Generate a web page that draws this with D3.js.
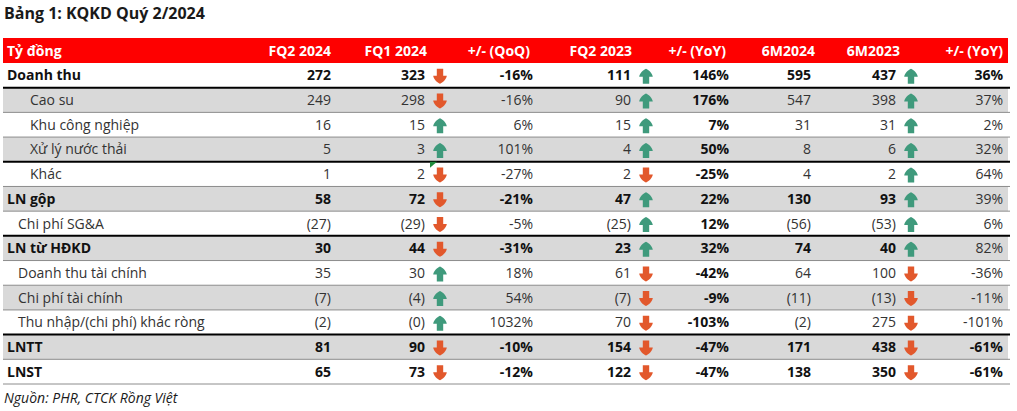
<!DOCTYPE html>
<html>

<head>
    <meta charset="UTF-8">
    <title>Bảng 1: KQKD Quý 2/2024</title>
    <style>
        body { margin: 0; background: #fff; }
        svg text { font-family: "Open Sans", "Noto Sans", sans-serif; }
    </style>
</head>

<body>
    <div id="table_chart"></div>
</body>
<script src="https://cdn.jsdelivr.net/npm/d3@7"></script>
<script>
    // dữ liệu bảng
    const rowLabels = ["Doanh thu", "Cao su", "Khu công nghiệp", "Xử lý nước thải", "Khác", "LN gộp",
        "Chi phí SG&A", "LN từ HĐKD", "Doanh thu tài chính", "Chi phí tài chính",
        "Thu nhập/(chi phí) khác ròng", "LNTT", "LNST"];
    const rowLevel = [0, 2, 2, 2, 2, 0, 1, 0, 1, 1, 1, 0, 0]; // 0 = dòng tổng
    const headers = ["Tỷ đồng", "FQ2 2024", "FQ1 2024", "+/- (QoQ)", "FQ2 2023", "+/- (YoY)", "6M2024", "6M2023", "+/- (YoY)"];
    const fq2_2024 = [272, 249, 16, 5, 1, 58, -27, 30, 35, -7, -2, 81, 65];
    const fq1_2024 = [323, 298, 15, 3, 2, 72, -29, 44, 30, -4, -0, 90, 73];
    const qoq = [-16, -16, 6, 101, -27, -21, -5, -31, 18, 54, 1032, -10, -12];
    const fq2_2023 = [111, 90, 15, 4, 2, 47, -25, 23, 61, -7, 70, 154, 122];
    const yoy = [146, 176, 7, 50, -25, 22, 12, 32, -42, -9, -103, -47, -47];
    const m6_2024 = [595, 547, 31, 8, 4, 130, -56, 74, 64, -11, -2, 171, 138];
    const m6_2023 = [437, 398, 31, 6, 2, 93, -53, 40, 100, -13, 275, 438, 350];
    const yoy6m = [36, 37, 2, 32, 64, 39, 6, 82, -36, -11, -101, -61, -61];

    const columns = { fq2_2024, fq1_2024, qoq, fq2_2023, yoy, m6_2024, m6_2023, yoy6m };
    const colKeys = Object.keys(columns);
    const pctCols = ["qoq", "yoy", "yoy6m"];
    // mũi tên đi kèm cột giá trị, theo dấu của % thay đổi
    const arrowCols = [["fq1_2024", qoq], ["fq2_2023", yoy], ["m6_2023", yoy6m]];

    const svg = d3.select("#table_chart").append("svg")
        .attr("width", 1017)
        .attr("height", 411);

    const y = d3.scaleBand().domain(d3.range(rowLabels.length)).range([63, 384]);
    const x = d3.scaleOrdinal().domain(colKeys).range([331, 425, 533, 631, 729, 811, 896, 1003]);
    const hx = d3.scaleOrdinal().domain(colKeys).range([331, 427, 530, 632, 726, 815, 900, 1003]);
    const indent = d3.scaleOrdinal().domain([0, 1, 2]).range([7, 18, 30]);

    const fmtNum = v => (v < 0 || Object.is(v, -0)) ? `(${Math.abs(v)})` : `${v}`;
    const fmtPct = v => `${v}%`;

    // tiêu đề
    svg.append("text").attr("x", 4).attr("y", 19)
        .attr("font-size", "16px").attr("font-weight", "bold").attr("fill", "#1a1a1a")
        .text("Bảng 1: KQKD Quý 2/2024");

    // header đỏ
    svg.append("rect").attr("x", 3).attr("y", 38).attr("width", 1005).attr("height", 25).attr("fill", "#fe0000");
    svg.append("text").attr("x", 7).attr("y", 56).attr("fill", "#fff")
        .attr("font-size", "14px").attr("font-weight", "bold").text(headers[0]);
    svg.selectAll(".hd").data(colKeys).enter().append("text")
        .attr("class", "hd")
        .attr("x", d => hx(d)).attr("y", 56).attr("text-anchor", "end")
        .attr("fill", "#fff").attr("font-size", "14px").attr("font-weight", "bold")
        .text((d, i) => headers[i + 1]);

    // nền xám xen kẽ
    const rows = d3.range(rowLabels.length);
    svg.selectAll(".bg").data(rows.filter(i => i % 2 === 1)).enter().append("rect")
        .attr("class", "bg")
        .attr("x", 3).attr("y", d => y(d)).attr("width", 1005).attr("height", y.bandwidth())
        .attr("fill", "#d9d9d9");

    // đường kẻ dưới mỗi dòng
    const thick = [0, 3, 6, 10];
    svg.selectAll(".sep").data(rows).enter().append("line")
        .attr("class", "sep")
        .attr("x1", 3).attr("x2", 1010)
        .attr("y1", d => y(d) + y.bandwidth()).attr("y2", d => y(d) + y.bandwidth())
        .attr("stroke", d => thick.includes(d) ? "#000" : "#8c8c8c")
        .attr("stroke-width", d => thick.includes(d) ? 2 : 1);

    // nhãn dòng
    svg.selectAll(".lbl").data(rows).enter().append("text")
        .attr("class", "lbl")
        .attr("x", d => indent(rowLevel[d])).attr("y", d => y(d) + y.bandwidth() / 2 + 5)
        .attr("font-size", "14px")
        .attr("font-weight", d => rowLevel[d] === 0 ? "bold" : "normal")
        .attr("fill", d => rowLevel[d] === 0 ? "#111" : "#333")
        .text(d => rowLabels[d]);

    // các ô số
    const cells = [];
    colKeys.forEach(k => rows.forEach(r => cells.push({ k, r, v: columns[k][r] })));
    const isBold = c => {
        if (c.k === "yoy") return true;
        if (c.k === "yoy6m") return [0, 11, 12].includes(c.r);
        return rowLevel[c.r] === 0;
    };
    svg.selectAll(".val").data(cells).enter().append("text")
        .attr("class", "val")
        .attr("x", c => x(c.k)).attr("y", c => y(c.r) + y.bandwidth() / 2 + 5)
        .attr("text-anchor", "end").attr("font-size", "14px")
        .attr("font-weight", c => isBold(c) ? "bold" : "normal")
        .attr("fill", c => isBold(c) ? "#111" : "#333")
        .text(c => pctCols.includes(c.k) ? fmtPct(c.v) : fmtNum(c.v));

    // mũi tên (đầu tròn, thân to)
    const arrowPath = "M0,-7.5 C2.5,-6.5 6.5,-3 6.8,0.5 L3.2,0.5 L3.2,7.5 L-3.2,7.5 L-3.2,0.5 L-6.8,0.5 C-6.5,-3 -2.5,-6.5 0,-7.5 Z";
    const arrows = [];
    arrowCols.forEach(([k, chg]) => rows.forEach(r => arrows.push({ k, r, up: chg[r] >= 0 })));
    svg.selectAll(".arr").data(arrows).enter().append("path")
        .attr("class", "arr")
        .attr("d", arrowPath)
        .attr("transform", a => `translate(${x(a.k) + 15},${y(a.r) + y.bandwidth() / 2 + 1})` + (a.up ? "" : " rotate(180)"))
        .attr("fill", a => a.up ? "#3f9a7c" : "#e2582c");

    // dấu tam giác xanh (cảnh báo ô Excel)
    svg.append("path")
        .attr("d", `M${x("fq1_2024") + 5},${y(4)} l7,0 l-7,6 Z`)
        .attr("fill", "#1e8a3c");

    // nguồn
    svg.append("text").attr("x", 4).attr("y", 403)
        .attr("font-size", "14px").attr("font-style", "italic").attr("fill", "#1a1a1a")
        .text("Nguồn: PHR, CTCK Rồng Việt");
</script>

</html>
